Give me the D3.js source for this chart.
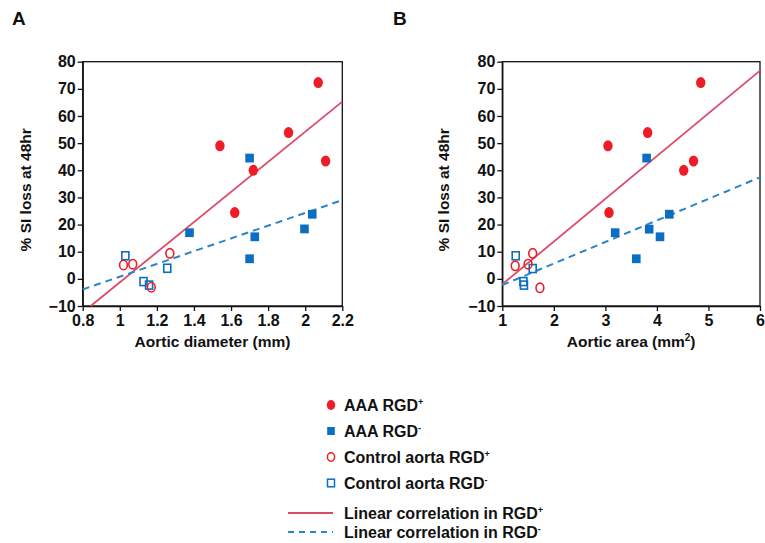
<!DOCTYPE html>
<html><head><meta charset="utf-8">
<script src="https://cdn.jsdelivr.net/npm/d3@7"></script>
<style>
html,body{margin:0;padding:0;background:#fff;}
svg{display:block;font-family:"Liberation Sans",Arial,sans-serif;font-weight:bold;}
</style></head>
<body>
<svg id="chart" width="765" height="543"></svg>
<script>
// ---------- DATA ----------
const yTicks = [-10, 0, 10, 20, 30, 40, 50, 60, 70, 80];
const xTicksA = [0.8, 1, 1.2, 1.4, 1.6, 1.8, 2, 2.2];
const xTicksB = [1, 2, 3, 4, 5, 6];

// Panel A: aortic diameter (mm) vs % SI loss
const aaaPosA = [[1.54, 49], [1.62, 24.4], [1.72, 40], [1.91, 53.9], [2.07, 72.3], [2.11, 43.4]];
const aaaNegA = [[1.376, 17], [1.70, 44.5], [1.70, 7.4], [1.728, 15.5], [1.996, 18.4], [2.038, 23.8]];
const ctrlPosA = [[1.02, 5.1], [1.07, 5.4], [1.17, -3.1], [1.27, 9.4]];
const ctrlNegA = [[1.03, 8.5], [1.128, -1.0], [1.158, -2.3], [1.256, 3.9]];
const linePosA = [[0.843, -10], [2.2, 65.3]];
const lineNegA = [[0.8, -3.9], [2.2, 29.0]];

// Panel B: aortic area (mm2) vs % SI loss
const aaaPosB = [[3.05, 49], [3.07, 24.4], [3.82, 53.9], [4.52, 40], [4.71, 43.4], [4.85, 72.3]];
const aaaNegB = [[3.19, 17], [3.60, 7.4], [3.80, 44.5], [3.85, 18.3], [4.06, 15.5], [4.24, 23.8]];
const ctrlPosB = [[1.25, 4.8], [1.50, 5.4], [1.59, 9.4], [1.73, -3.3]];
const ctrlNegB = [[1.26, 8.5], [1.41, -1.0], [1.42, -2.3], [1.59, 3.8]];
const linePosB = [[1, -2.0], [6, 76.7]];
const lineNegB = [[1, -2.3], [6, 37.4]];

const legendItems = ["AAA RGD", "AAA RGD", "Control aorta RGD", "Control aorta RGD"];
const legendSup = ["+", "-", "+", "-"];
const legendLines = ["Linear correlation in RGD", "Linear correlation in RGD"];

// ---------- STYLE ----------
const RED = "#ee1c24", BLUE = "#0a6fc2", LINE_RED = "#dc4a6a", LINE_BLUE = "#2b86c6";

const svg = d3.select("#chart");

function panel(opt) {
  const g = svg.append("g");
  const x = d3.scaleLinear().domain(opt.xDomain).range([opt.left, opt.right]);
  const y = d3.scaleLinear().domain([-10, 80]).range([306, 61.7]);

  // frame
  g.append("rect").attr("x", opt.left).attr("y", y(80))
    .attr("width", opt.right - opt.left).attr("height", y(-10) - y(80))
    .attr("fill", "none").attr("stroke", "#111").attr("stroke-width", 1.3);

  const ya = g.append("g").attr("transform", `translate(${opt.left},0)`)
    .call(d3.axisLeft(y).tickValues(yTicks).tickSize(5).tickSizeOuter(0).tickPadding(2));
  const xa = g.append("g").attr("transform", `translate(0,${y(-10)})`)
    .call(d3.axisBottom(x).tickValues(opt.xTicks).tickFormat(d3.format("~g")).tickSize(5).tickSizeOuter(0).tickPadding(4));
  [ya, xa].forEach(a => {
    a.selectAll("path,line").attr("stroke", "#111").attr("stroke-width", 1.3);
    a.selectAll("text").attr("fill", "#111").style("font-size", "16px").style("font-weight", "bold")
      .style("font-family", '"Liberation Sans",Arial,sans-serif');
  });

  const line = d3.line().x(d => x(d[0])).y(d => y(d[1]));
  g.append("path").attr("d", line(opt.linePos)).attr("fill", "none")
    .attr("stroke", LINE_RED).attr("stroke-width", 1.8);
  g.append("path").attr("d", line(opt.lineNeg)).attr("fill", "none")
    .attr("stroke", LINE_BLUE).attr("stroke-width", 2).attr("stroke-dasharray", "7,5");

  g.selectAll(".cn").data(opt.ctrlNeg).join("rect")
    .attr("x", d => x(d[0]) - 3.5).attr("y", d => y(d[1]) - 4)
    .attr("width", 7).attr("height", 8).attr("fill", "none")
    .attr("stroke", BLUE).attr("stroke-width", 1.6);
  g.selectAll(".cp").data(opt.ctrlPos).join("ellipse")
    .attr("cx", d => x(d[0])).attr("cy", d => y(d[1])).attr("rx", 3.9).attr("ry", 4.7)
    .attr("fill", "none").attr("stroke", RED).attr("stroke-width", 1.6);
  g.selectAll(".an").data(opt.aaaNeg).join("rect")
    .attr("x", d => x(d[0]) - 4.3).attr("y", d => y(d[1]) - 4.4)
    .attr("width", 8.6).attr("height", 8.8).attr("fill", BLUE);
  g.selectAll(".ap").data(opt.aaaPos).join("ellipse")
    .attr("cx", d => x(d[0])).attr("cy", d => y(d[1])).attr("rx", 4.7).attr("ry", 5.5)
    .attr("fill", RED);

  // panel letter
  svg.append("text").attr("x", opt.letterX).attr("y", 25).text(opt.letter)
    .style("font-size", "19px").attr("fill", "#111");
  // y title
  svg.append("text").attr("transform", `translate(${opt.yTitleX},${(y(80) + y(-10)) / 2 + 6}) rotate(-90)`)
    .attr("text-anchor", "middle").style("font-size", "15.5px").attr("fill", "#111")
    .text("% SI loss at 48hr");
  // x title
  const xt = svg.append("text").attr("x", (opt.left + opt.right) / 2).attr("y", 347)
    .attr("text-anchor", "middle").style("font-size", "15.5px").attr("fill", "#111");
  xt.append("tspan").text(opt.xTitle);
  if (opt.xTitleSup) {
    xt.append("tspan").attr("dy", -6).style("font-size", "10px").text(opt.xTitleSup);
    xt.append("tspan").attr("dy", 6).text(")");
  }
}

panel({ letter: "A", letterX: 12, xDomain: [0.8, 2.2], left: 82.7, right: 342.3, xTicks: xTicksA,
  aaaPos: aaaPosA, aaaNeg: aaaNegA, ctrlPos: ctrlPosA, ctrlNeg: ctrlNegA,
  linePos: linePosA, lineNeg: lineNegA, yTitleX: 31, xTitle: "Aortic diameter (mm)" });
panel({ letter: "B", letterX: 393, xDomain: [1, 6], left: 502.3, right: 760, xTicks: xTicksB,
  aaaPos: aaaPosB, aaaNeg: aaaNegB, ctrlPos: ctrlPosB, ctrlNeg: ctrlNegB,
  linePos: linePosB, lineNeg: lineNegB, yTitleX: 449, xTitle: "Aortic area (mm", xTitleSup: "2" });

// ---------- LEGEND ----------
const leg = svg.append("g");
const rowY = [405, 431, 457, 483];
legendItems.forEach((t, i) => {
  const cy = rowY[i], cx = 331;
  if (i === 0) leg.append("ellipse").attr("cx", cx).attr("cy", cy).attr("rx", 4.2).attr("ry", 5).attr("fill", RED);
  if (i === 1) leg.append("rect").attr("x", cx - 3.8).attr("y", cy - 4).attr("width", 7.6).attr("height", 8).attr("fill", BLUE);
  if (i === 2) leg.append("ellipse").attr("cx", cx).attr("cy", cy).attr("rx", 3.6).attr("ry", 4.2).attr("fill", "none").attr("stroke", RED).attr("stroke-width", 1.5);
  if (i === 3) leg.append("rect").attr("x", cx - 3.5).attr("y", cy - 3.8).attr("width", 7).attr("height", 7.6).attr("fill", "none").attr("stroke", BLUE).attr("stroke-width", 1.5);
  const tx = leg.append("text").attr("x", 344).attr("y", cy + 5.5).style("font-size", "16px").attr("fill", "#111");
  tx.append("tspan").text(t);
  tx.append("tspan").attr("dy", -6).style("font-size", "9px").text(legendSup[i]);
});
const lineY = [513, 532];
legendLines.forEach((t, i) => {
  leg.append("line").attr("x1", 288).attr("x2", 333).attr("y1", lineY[i]).attr("y2", lineY[i])
    .attr("stroke", i === 0 ? LINE_RED : LINE_BLUE).attr("stroke-width", i === 0 ? 1.8 : 2)
    .attr("stroke-dasharray", i === 0 ? null : "6,5");
  const tx = leg.append("text").attr("x", 344).attr("y", lineY[i] + 5.5).style("font-size", "16px").attr("fill", "#111");
  tx.append("tspan").text(t);
  tx.append("tspan").attr("dy", -6).style("font-size", "9px").text(legendSup[i]);
});
</script>
</body></html>
